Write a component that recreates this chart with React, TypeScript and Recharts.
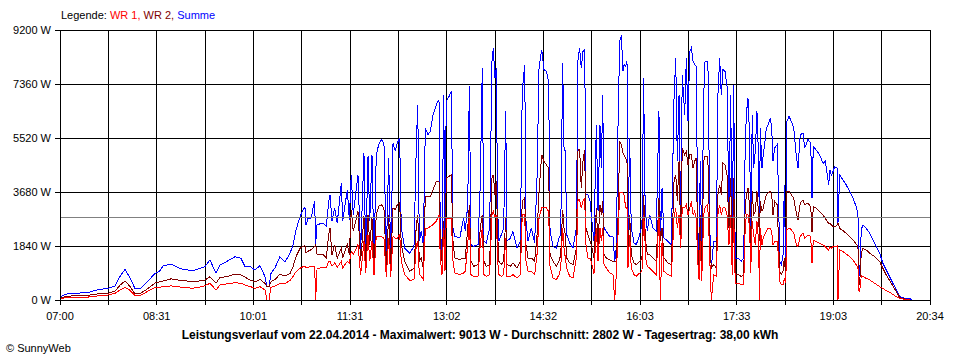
import { LineChart, Line, XAxis, YAxis, CartesianGrid, ReferenceLine } from 'recharts';

// Messzeitpunkte in Minuten ab Mitternacht
const times = [
  420.0, 425.6, 434.0, 446.2, 452.7, 464.9, 471.5, 476.1, 480.8, 485.5, 490.2, 494.9, 502.3, 508.9, 513.6, 516.4, 523.9, 530.4, 535.1, 544.4,
  551.0, 555.7, 560.3, 566.0, 569.7, 575.3, 583.7, 589.3, 593.1, 597.8, 602.4, 607.1, 611.8, 613.7, 615.5, 617.4, 621.2, 625.8, 630.5, 635.2,
  638.0, 640.8, 644.6, 647.4, 649.2, 650.2, 652.0, 655.1, 656.7, 658.3, 659.2, 660.5, 666.1, 669.2, 671.4, 672.6, 674.5, 677.0, 679.4, 683.2,
  684.5, 688.8, 690.7, 692.5, 694.4, 698.8, 701.3, 704.4, 706.0, 708.2, 709.8, 711.9, 713.8, 715.9, 718.2, 720.6, 723.1, 725.3, 727.5, 729.4,
  731.6, 733.7, 735.6, 737.8, 739.3, 742.5, 747.2, 751.2, 753.4, 754.7, 756.2, 758.0, 759.9, 761.8, 764.3, 766.5, 769.0, 772.1, 774.6, 775.8,
  777.4, 779.0, 780.2, 781.4, 784.0, 786.1, 787.7, 789.3, 794.0, 797.7, 799.2, 801.5, 803.0, 804.5, 807.1, 811.1, 813.2, 815.1, 816.7, 818.9,
  822.0, 824.2, 825.4, 827.0, 828.2, 829.5, 830.7, 832.9, 835.1, 837.0, 838.2, 841.3, 843.8, 847.6, 850.7, 852.5, 854.8, 856.0, 857.9, 861.0,
  864.1, 866.3, 868.2, 870.7, 872.8, 875.0, 877.2, 878.5, 881.3, 884.4, 886.9, 888.5, 890.3, 891.6, 892.8, 894.1, 896.9, 900.0, 903.1, 904.7,
  906.2, 907.7, 909.3, 910.9, 912.1, 914.0, 915.9, 917.1, 919.6, 921.8, 923.4, 925.2, 926.5, 927.8, 929.0, 931.1, 934.3, 937.4, 939.0, 940.5,
  942.1, 943.7, 945.2, 946.8, 947.7, 949.3, 950.5, 951.4, 953.0, 954.5, 957.1, 959.2, 962.4, 964.5, 966.1, 967.1, 968.0, 969.5, 971.7, 974.8,
  977.9, 980.4, 981.7, 983.3, 985.1, 988.9, 992.0, 994.5, 996.1, 997.6, 999.2, 1000.7, 1002.2, 1004.5, 1006.0, 1007.6, 1009.2, 1010.7, 1012.3, 1013.8,
  1015.3, 1016.7, 1017.9, 1019.1, 1020.4, 1022.3, 1023.5, 1025.4, 1026.6, 1027.9, 1029.4, 1031.6, 1034.1, 1035.6, 1037.2, 1038.7, 1040.3, 1042.2, 1044.1, 1045.9,
  1047.5, 1049.0, 1050.3, 1051.8, 1054.4, 1057.4, 1059.7, 1060.9, 1062.1, 1063.7, 1065.3, 1066.2, 1067.7, 1069.0, 1070.5, 1072.1, 1073.7, 1074.4, 1075.2, 1076.8,
  1078.0, 1079.3, 1080.8, 1082.7, 1084.6, 1085.9, 1087.1, 1088.7, 1090.9, 1092.1, 1093.4, 1094.9, 1096.5, 1097.7, 1099.0, 1100.2, 1102.1, 1104.2, 1106.5, 1108.9,
  1110.5, 1112.6, 1115.2, 1116.8, 1119.9, 1122.4, 1123.6, 1124.8, 1127.6, 1130.8, 1133.9, 1136.0, 1139.2, 1140.4, 1141.7, 1143.2, 1144.8, 1147.3, 1147.9, 1149.5,
  1152.6, 1155.7, 1158.9, 1162.0, 1165.0, 1166.6, 1167.3, 1168.2, 1169.7, 1171.3, 1174.4, 1177.6, 1182.3, 1186.9, 1190.0, 1193.1, 1197.8, 1202.5, 1205.7, 1210.3,
  1215.0, 1217.2,
];

// Summe in W
const summe = [
  110, 200, 230, 250, 330, 400, 480, 800, 1045, 760, 380, 380, 650, 900, 1000, 1160, 1230, 1100, 1045, 1000,
  1080, 1140, 1360, 910, 1190, 1300, 1475, 1420, 1140, 1140, 1020, 1170, 800, 450, 450, 900, 1100, 1475, 1300, 1590,
  1875, 2385, 2840, 3065, 3160, 2555, 2770, 2794, 3135, 3362, 1885, 2567, 2623, 2510, 3362, 3589, 2680, 3135, 2623, 3986,
  2680, 3759, 2737, 4270, 2907, 4270, 1658, 5008, 1545, 4895, 2680, 4952, 1317, 4952, 5292, 5463, 5349, 1500, 4838, 1600,
  5349, 5065, 5349, 5520, 2453, 1772, 1601, 1828, 5292, 6632, 1999, 2340, 1885, 5860, 5633, 5747, 6314, 6655, 6826, 2453,
  1545, 6996, 2226, 6769, 6939, 7109, 2453, 2169, 2112, 2794, 2340, 3248, 7280, 1885, 1828, 1885, 3930, 7904, 1999, 1942,
  2453, 8132, 8586, 7564, 7904, 3021, 1999, 2226, 2453, 6428, 1999, 2112, 2340, 1772, 1999, 7109, 8018, 2680, 1999, 2453,
  1942, 4157, 7904, 8529, 7847, 7791, 7450, 2340, 1828, 1772, 2112, 2226, 8075, 5179, 5065, 2226, 1942, 1772, 2453, 8245,
  8586, 7904, 8472, 8529, 3589, 3589, 3362, 2907, 1999, 5974, 3021, 5974, 4497, 6996, 2453, 2340, 2169, 2169, 1317, 1772,
  5974, 8813, 9013, 7791, 8018, 7961, 8132, 1999, 5520, 2453, 1942, 1885, 2226, 2567, 7564, 3816, 2907, 2340, 2907, 2453,
  2340, 6428, 2000, 3816, 2112, 1999, 1885, 6882, 8245, 4724, 6996, 2680, 7677, 6314, 8245, 6087, 8472, 8586, 8132, 8018,
  7961, 2453, 1545, 4724, 1750, 6996, 8132, 8132, 7677, 2453, 1090, 1999, 1999, 6996, 8245, 6996, 7847, 7791, 7280, 2907,
  6996, 1772, 7337, 1431, 1431, 1317, 1431, 4724, 6314, 6882, 5520, 1999, 6314, 4497, 5065, 6428, 4724, 2000, 5860, 4497,
  4952, 5292, 5860, 5974, 6201, 5860, 4724, 5179, 5292, 3930, 1317, 1204, 1545, 3930, 1090, 6087, 6258, 6087, 5860, 4895,
  4497, 5633, 5690, 5179, 5474, 5338, 3464, 5224, 5111, 4940, 4656, 4736, 3918, 4429, 4259, 4372, 4543, 4486, 2610, 4259,
  4088, 3918, 3691, 3464, 3180, 2953, 800, 850, 2400, 2555, 2442, 2271, 1931, 1590, 1249, 1022, 681, 341, 114, 57,
  57, 0,
];

// WR 2 in W
const wr2 = [
  70, 120, 150, 160, 200, 230, 300, 500, 650, 460, 210, 215, 390, 580, 620, 650, 720, 680, 660, 625,
  650, 680, 790, 570, 770, 790, 880, 850, 780, 680, 620, 700, 570, 450, 450, 620, 700, 880, 820, 900,
  1135, 1475, 1760, 1820, 1850, 1600, 1660, 1715, 1772, 1828, 1885, 1545, 1545, 1431, 2226, 2453, 1545, 1885, 1431, 1772,
  1431, 1885, 1545, 3078, 2340, 3021, 1317, 2851, 1317, 2907, 1885, 2794, 1090, 2907, 3191, 3248, 3135, 1150, 2907, 1200,
  3135, 3078, 3248, 3305, 1885, 1317, 977, 1090, 2567, 2907, 1317, 1431, 1090, 3532, 3532, 3532, 3759, 4043, 4043, 1999,
  1317, 2680, 1545, 4157, 4213, 4270, 1999, 1431, 1374, 1431, 1431, 2453, 3248, 1317, 1147, 1204, 2453, 2907, 1317, 1147,
  1204, 4157, 4270, 3589, 4043, 2226, 1317, 1204, 1317, 2794, 1204, 1147, 1261, 1090, 1317, 3362, 3475, 1885, 1431, 1431,
  1317, 2226, 3702, 4952, 4724, 4611, 4497, 1545, 1317, 1147, 1317, 1545, 3078, 2453, 2226, 1431, 1261, 1204, 1772, 5122,
  5122, 3816, 4724, 5122, 2453, 2226, 1999, 1885, 1431, 3135, 1885, 3248, 2907, 3362, 1545, 1431, 1374, 1317, 1317, 1317,
  2794, 5406, 5292, 5008, 4952, 4838, 4724, 1545, 2907, 1545, 1261, 1204, 1317, 1431, 3589, 2567, 1999, 1545, 1545, 1431,
  1317, 3475, 2000, 2453, 1431, 1261, 1204, 4043, 4270, 3362, 4724, 2226, 5179, 4952, 5065, 4611, 4952, 4952, 4497, 4724,
  4838, 1885, 1090, 2907, 1100, 4724, 4895, 4895, 4497, 1999, 1090, 1204, 1090, 3589, 3930, 3589, 4668, 4611, 4270, 2453,
  4157, 1317, 4157, 863, 863, 806, 863, 2907, 3589, 3816, 3135, 1317, 3702, 2907, 3021, 3702, 2907, 2000, 3362, 3021,
  3135, 3362, 3589, 3646, 3702, 3589, 2907, 3362, 3248, 2226, 977, 863, 977, 1431, 806, 3702, 3702, 3589, 3475, 2964,
  2737, 3305, 3418, 3248, 3294, 3180, 2328, 3180, 3123, 3010, 2896, 2782, 2612, 2612, 2555, 2499, 2499, 2555, 2610, 2442,
  2362, 2271, 2158, 2044, 1908, 1817, 480, 560, 1600, 1760, 1704, 1590, 1476, 1306, 1079, 852, 568, 284, 80, 34,
  0, 0,
];

// WR 1 in W
const wr1 = [
  40, 80, 100, 100, 130, 170, 230, 340, 430, 330, 150, 150, 300, 420, 440, 450, 480, 450, 430, 400,
  440, 490, 570, 340, 510, 545, 590, 570, 510, 460, 400, 455, 340, 0, 0, 430, 470, 570, 560, 660,
  795, 965, 1080, 1135, 1140, 1100, 1113, 1147, 1147, 1147, 0, 1068, 1113, 1113, 1317, 1317, 1147, 1261, 1113, 1317,
  1090, 1317, 1261, 1658, 1545, 1885, 863, 1999, 920, 2226, 1317, 1999, 863, 2169, 2169, 2169, 2112, 780, 2112, 800,
  2169, 2112, 2112, 2226, 1317, 863, 670, 693, 1885, 1999, 863, 806, 693, 2453, 2453, 2510, 2567, 2680, 2907, 1431,
  863, 2453, 977, 2794, 2794, 2794, 1317, 920, 863, 920, 977, 1885, 2907, 863, 806, 806, 1885, 2453, 863, 806,
  863, 2907, 3021, 2794, 2907, 1317, 863, 806, 863, 2112, 806, 806, 863, 750, 863, 2907, 2907, 1317, 977, 977,
  863, 1545, 2794, 3135, 3135, 3135, 3021, 1147, 750, 693, 863, 1090, 2453, 1772, 1431, 1090, 806, 750, 1431, 3418,
  3418, 3135, 3362, 3475, 1885, 1431, 1431, 1317, 900, 2453, 1317, 2453, 1999, 2453, 1204, 1090, 920, 863, 0, 863,
  2226, 3646, 3646, 3646, 3589, 3135, 3135, 1090, 2226, 1090, 863, 806, 920, 977, 2907, 2226, 1431, 1147, 1090, 977,
  863, 2907, 0, 1999, 977, 863, 806, 2794, 3135, 2453, 2907, 1772, 3135, 3135, 3248, 2907, 3135, 3362, 2907, 3021,
  2794, 1317, 693, 1999, 650, 2907, 3135, 3248, 2907, 1431, 0, 863, 806, 2907, 3248, 2907, 3135, 3135, 2907, 1885,
  2907, 863, 2907, 579, 579, 522, 522, 2226, 2907, 2907, 2453, 920, 2680, 2226, 1885, 2680, 1999, 0, 2453, 1885,
  2112, 2226, 2340, 2453, 2453, 2340, 1885, 1999, 1999, 1545, 636, 522, 522, 750, 579, 2396, 2453, 2396, 2283, 1885,
  1828, 2169, 2283, 2112, 2215, 2158, 1249, 2044, 1987, 1931, 1874, 1817, 1704, 1817, 1760, 1817, 1817, 1840, 0, 1704,
  1647, 1567, 1476, 1363, 1192, 1136, 320, 290, 820, 795, 738, 681, 568, 454, 397, 318, 227, 114, 57, 23,
  0, 0,
];

const xTickLabels = ['07:00', '08:31', '10:01', '11:31', '13:02', '14:32', '16:03', '17:33', '19:03', '20:34'];
const yTicks = [0, 1840, 3680, 5520, 7360, 9200];
const averageW = 2802;

const START = 420;
const END = 1234;
// 18 Rasterfelder, jede zweite Linie beschriftet
const xTicks = Array.from({ length: 19 }, (_, i) => START + (i * (END - START)) / 18);

const font = '"Liberation Sans", Arial, sans-serif';

export default function App() {
  const data = times.map((t, i) => ({ t, summe: summe[i], wr2: wr2[i], wr1: wr1[i] }));

  return (
    <div style={{ position: 'relative', width: 960, height: 360, background: '#fff', fontFamily: font, color: '#000' }}>
      <style>{'body{margin:0} .recharts-surface{shape-rendering:crispEdges}'}</style>
      <div style={{ position: 'absolute', left: 61, top: 9, fontSize: 11, lineHeight: '13px', whiteSpace: 'nowrap' }}>
        Legende: <span style={{ color: '#ff0000' }}>WR 1,</span> <span style={{ color: '#800000' }}>WR 2,</span>{' '}
        <span style={{ color: '#0000ff' }}>Summe</span>
      </div>
      <LineChart width={960} height={360} data={data} margin={{ top: 30, right: 30, bottom: 30, left: 0 }}>
        <CartesianGrid stroke="#000" strokeWidth={1} />
        <XAxis
          dataKey="t"
          type="number"
          domain={[START, END]}
          ticks={xTicks}
          interval={0}
          height={30}
          tickSize={5}
          tickMargin={7}
          stroke="#000"
          tick={{ fill: '#000', fontSize: 11, fontFamily: font }}
          tickFormatter={(v, i) => (i % 2 === 0 ? xTickLabels[i / 2] : '')}
        />
        <YAxis
          type="number"
          domain={[0, 9200]}
          ticks={yTicks}
          interval={0}
          width={60}
          tickSize={5}
          tickMargin={4}
          stroke="#000"
          tick={{ fill: '#000', fontSize: 11, fontFamily: font }}
          tickFormatter={(v) => `${v} W`}
        />
        <Line type="linear" dataKey="summe" stroke="#0000ff" strokeWidth={1} dot={false} isAnimationActive={false} />
        <Line type="linear" dataKey="wr2" stroke="#800000" strokeWidth={1} dot={false} isAnimationActive={false} />
        <Line type="linear" dataKey="wr1" stroke="#ff0000" strokeWidth={1} dot={false} isAnimationActive={false} />
        <ReferenceLine y={averageW} stroke="#808080" strokeWidth={1} />
      </LineChart>
      <div
        style={{
          position: 'absolute',
          left: 0,
          width: 960,
          top: 328,
          textAlign: 'center',
          fontSize: 12,
          fontWeight: 'bold',
          lineHeight: '14px',
          whiteSpace: 'nowrap',
        }}
      >
        Leistungsverlauf vom 22.04.2014 - Maximalwert: 9013 W - Durchschnitt: 2802 W - Tagesertrag: 38,00 kWh
      </div>
      <div style={{ position: 'absolute', left: 6, top: 342, fontSize: 11, lineHeight: '13px' }}>© SunnyWeb</div>
    </div>
  );
}
